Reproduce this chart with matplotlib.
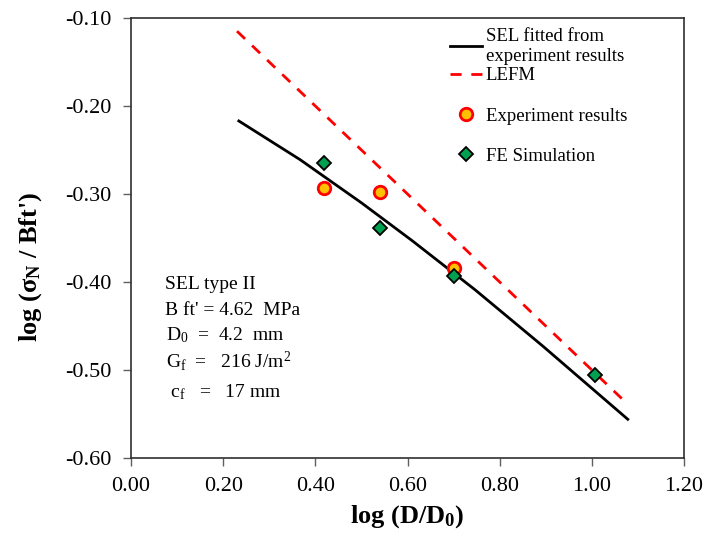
import matplotlib
matplotlib.use("Agg")
import matplotlib.pyplot as plt
from matplotlib.ticker import FormatStrFormatter

plt.rcParams['font.family'] = ['Liberation Serif', 'DejaVu Serif']
plt.rcParams['mathtext.fontset'] = 'custom'
plt.rcParams['mathtext.rm'] = 'Liberation Serif'
plt.rcParams['mathtext.it'] = 'Liberation Serif:italic'
plt.rcParams['mathtext.bf'] = 'Liberation Serif:bold'

# SEL curve fitted from experiments
sel_x = [0.234, 0.367, 0.50, 0.61, 0.747, 0.894, 1.078]
sel_y = [-0.217, -0.261, -0.310, -0.353, -0.409, -0.473, -0.556]

# LEFM asymptote
lefm_x = [0.23, 1.08]
lefm_y = [-0.115, -0.540]

# Experiment results
exp_x = [0.418, 0.541, 0.701]
exp_y = [-0.293, -0.298, -0.384]

# FE simulation
fe_x = [0.418, 0.541, 0.701, 1.007]
fe_y = [-0.265, -0.339, -0.393, -0.506]

# Parameter block text
param_lines = ["SEL type II",
               "B ft' = 4.62  MPa",
               "D$_0$  =  4.2  mm",
               "G$_\\mathrm{f}$  =   216 J/m$^2$",
               " c$_\\mathrm{f}$   =   17 mm"]

fig = plt.figure(figsize=(7.09, 5.37), dpi=100)
ax = fig.add_axes([131/709, 1 - 458/537, (684-131)/709, (458-18)/537])

l_sel, = ax.plot(sel_x, sel_y, color='black', lw=2, zorder=2)
l_lefm, = ax.plot(lefm_x, lefm_y, color='#FF0000', lw=2, ls=(0, (4, 3.5)), zorder=2)
l_exp, = ax.plot(exp_x, exp_y, ls='none', marker='o', ms=9, mfc='#FFC000', mec='#FF0000', mew=2,
                 zorder=3)
l_fe, = ax.plot(fe_x, fe_y, ls='none', marker='D', ms=7, mfc='#00A050', mec='black', mew=1.3,
                zorder=4)

ax.set_xlim(0, 1.2)
ax.set_ylim(-0.6, -0.1)
ax.set_xticks([0.0, 0.2, 0.4, 0.6, 0.8, 1.0, 1.2])
ax.set_yticks([-0.6, -0.5, -0.4, -0.3, -0.2, -0.1])
ax.xaxis.set_major_formatter(FormatStrFormatter('%.2f'))
ax.yaxis.set_major_formatter(FormatStrFormatter('%.2f'))
ax.tick_params(axis='both', labelsize=16, direction='out', length=6, width=1, color='#606060')
ax.tick_params(axis='x', pad=8)
ax.tick_params(axis='y', pad=8)
for name, s in ax.spines.items():
    s.set_color('#303030')
    s.set_linewidth(1.2)

ax.set_xlabel(r'log (D/D$_\mathbf{0}$)', fontsize=19, fontweight='bold')
ax.xaxis.set_label_coords(0.5, -0.103)
ax.set_ylabel(r"log ($\mathbf{\sigma}_\mathbf{N}$ / Bft')", fontsize=19, fontweight='bold')
ax.yaxis.set_label_coords(-0.157, 0.434)

leg_kw = dict(loc='upper left', frameon=False, fontsize=13.5, handlelength=1.7,
              handletextpad=0.2, borderpad=0, borderaxespad=0)
leg1 = ax.legend([l_sel, l_lefm], ['SEL fitted from\nexperiment results', 'LEFM'],
                 bbox_to_anchor=(0.577, 0.977), labelspacing=0.12, **leg_kw)
ax.add_artist(leg1)
ax.legend([l_exp, l_fe], ['Experiment results', 'FE Simulation'],
          bbox_to_anchor=(0.577, 0.796), labelspacing=1.2, **leg_kw)

# baselines of the parameter lines, in axes fraction
param_y = [0.384, 0.325, 0.268, 0.205, 0.139]
param_x = [0.062, 0.062, 0.064, 0.064, 0.064]
for t, xx, yy in zip(param_lines, param_x, param_y):
    ax.text(xx, yy, t, transform=ax.transAxes, fontsize=14, va='baseline', ha='left')

fig.savefig('out.png', dpi=100)
